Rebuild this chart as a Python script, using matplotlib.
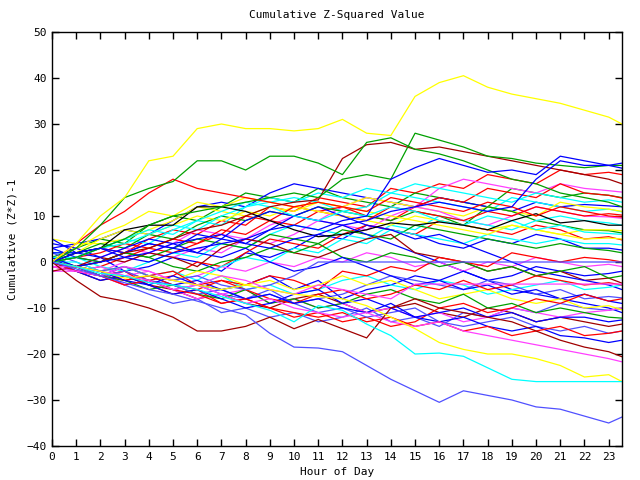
import matplotlib
matplotlib.use("Agg")
import matplotlib.pyplot as plt

hours = [0, 1, 2, 3, 4, 5, 6, 7, 8, 9, 10, 11, 12, 13, 14, 15, 16, 17, 18, 19, 20, 21, 22, 23, 23.55]
x_ticks = list(range(24))
y_ticks = [-40, -30, -20, -10, 0, 10, 20, 30, 40, 50]

title = "Cumulative Z-Squared Value"
x_label = "Hour of Day"
y_label = "Cumulative (Z*Z)-1"

# cumulative (z*z)-1 per day, read at each hour
day_r19 = [0, 1, 3, 2, 5, 7, 6, 9, 8, 12, 11, 14, 13, 12, 16, 15, 17, 16, 19, 18, 17, 20, 19, 19.5, 19]
day_g14 = [1, 3, 5, 4, 8, 10, 9, 12, 15, 14, 13, 16, 14, 13, 12, 15, 14, 13, 12, 16, 15, 14, 15, 14.5, 14]
day_b12 = [3, 4, 5, 7, 6, 9, 12, 13, 12, 15, 17, 16, 15, 14, 13, 12, 14, 13, 12, 11, 13, 12, 12.5, 12.2, 12]
day_m15 = [0, -1, 1, 3, 2, 4, 7, 6, 5, 8, 10, 9, 12, 14, 13, 12, 16, 18, 17, 16, 15, 17, 16, 15.5, 15.2]
day_c11 = [2, 2, 3, 5, 4, 7, 9, 8, 12, 13, 14, 13, 11, 12, 15, 14, 13, 12, 11, 14, 13, 12, 11, 11.5, 10.9]
day_dr13 = [-1, -2, -4, -3, -5, -6, -8, -7, -9, -10, -8, -7, -9, -11, -10, -9, -11, -12, -10, -11, -13, -12, -13, -14, -13.5]
day_y11 = [5, 4, 4, 5, 7, 9, 12, 11, 10, 12, 11, 13, 12, 14, 13, 12, 11, 10, 12, 11, 10, 13, 12, 11.5, 11]
day_r14 = [0, -2, -1, 1, 3, 2, 4, 6, 10, 9, 8, 11, 12, 10, 9, 12, 14, 13, 16, 15, 14, 17, 15, 14.5, 13.9]
day_lb10 = [2, 0, -2, -5, -7, -9, -8, -11, -10, -12, -11, -13, -12, -10, -13, -12, -14, -11, -12, -10, -11, -9, -10, -10.5, -10]
day_g6 = [0, 2, 4, 3, 6, 5, 8, 10, 9, 11, 10, 12, 11, 10, 9, 11, 10, 8, 12, 11, 9, 8, 7, 6.8, 6.3]
day_b3 = [4, 3, 1, -2, -1, 1, 0, -2, 2, 1, 3, 6, 5, 8, 7, 6, 4, 3, 5, 4, 6, 5, 3, 3, 2.6]
day_m9 = [-1, -1, -2, 0, 2, 1, 3, 2, 5, 4, 6, 9, 8, 7, 10, 12, 11, 9, 8, 10, 12, 11, 10, 9.8, 9.5]
day_c8 = [0, 1, -1, -2, 0, 2, 1, 4, 3, 6, 8, 7, 6, 5, 8, 7, 10, 9, 8, 7, 9, 10, 9, 8.5, 8]
day_r5 = [0, -1, -3, -2, -4, -3, 0, -1, 2, 5, 4, 3, 6, 8, 7, 6, 9, 8, 7, 6, 8, 7, 5, 5.5, 4.8]
day_g2 = [1, -1, 0, 2, 1, 3, 5, 4, 3, 6, 5, 4, 7, 6, 5, 8, 7, 6, 5, 4, 3, 4, 3, 2.5, 2]
day_b11n = [3, 1, 0, 2, 4, 3, 2, 5, 4, 7, 10, 9, 8, 6, 4, 2, 0, -2, -4, -6, -7, -8, -9, -10, -11]
day_m1n = [-2, -2, -1, -3, -2, -4, -3, -1, -2, 0, -1, 1, 0, 2, 1, -1, 0, -2, 0, -1, 1, 0, -1, -0.5, -1]
day_c4 = [0, 0, -2, -1, -3, -2, -4, -1, 1, 0, 3, 2, 5, 4, 7, 6, 5, 4, 6, 5, 4, 5, 4, 4, 3.7]
day_y5 = [0, 2, 5, 7, 6, 8, 10, 9, 11, 10, 12, 13, 12, 11, 10, 9, 8, 7, 6, 8, 7, 6, 5, 5.2, 5]
day_r10 = [0, 1, 2, 4, 3, 5, 4, 7, 6, 9, 12, 11, 10, 9, 12, 11, 10, 9, 11, 10, 12, 11, 10, 10.5, 10.2]
day_b2n = [1, -2, -3, -1, -3, -5, -4, -6, -5, -3, -6, -4, -8, -6, -5, -3, -4, -2, -4, -3, -1, -2, -3, -2.5, -2]
day_dr5n = [-2, -1, 1, 0, 2, 1, -1, 3, 5, 4, 2, 1, 3, 5, 6, 2, 1, 0, -2, -1, -3, -2, -4, -3.5, -4.6]
day_y7 = [0, 3, 6, 8, 11, 10, 13, 12, 14, 13, 12, 11, 10, 9, 8, 10, 9, 8, 7, 8, 7, 6, 7, 7, 6.8]
day_b6n = [5, 2, 3, 2, 4, 3, 6, 5, 9, 11, 10, 12, 10, 8, 7, 5, 6, 4, 2, 0, -2, -3, -4, -5, -6]
day_c5n = [0, -1, -2, -1, -3, -4, -5, -3, -6, -5, -7, -6, -4, -3, -5, -6, -4, -5, -7, -6, -5, -4, -6, -5.5, -5]
day_r0 = [0, -1, -3, -4, -3, -5, -6, -4, -5, -3, -4, -6, -2, -3, -1, -2, 1, 0, -1, 2, 1, 0, 1, 0.5, 0]
day_g3n = [0, 1, 0, 2, 1, -1, -2, 0, 1, 3, 2, 4, 1, 0, 2, 1, -1, 0, -2, -1, -3, -2, -1, -3.5, -3]
day_lb8n = [0, -2, -3, -5, -4, -6, -5, -7, -8, -6, -9, -8, -7, -5, -3, -4, -5, -6, -4, -5, -7, -6, -8, -7.5, -7.8]
day_b9n = [2, 2, 1, 3, 5, 4, 2, 1, 3, 0, -2, -1, 1, -1, -3, -5, -4, -6, -5, -7, -6, -8, -7, -8.5, -9]
day_m10n = [0, -2, -3, -5, -4, -6, -8, -7, -6, -9, -8, -10, -9, -11, -10, -12, -11, -13, -12, -10, -11, -12, -11, -10.5, -10]
day_c14 = [0, 1, 3, 4, 6, 8, 7, 10, 12, 14, 13, 15, 14, 16, 15, 17, 16, 15, 14, 13, 15, 14, 13, 13.5, 13]
day_y10n = [-1, -1, -2, -1, -3, -4, -2, -3, -5, -4, -6, -5, -3, -5, -4, -6, -8, -7, -6, -8, -9, -8, -10, -9.5, -10.4]
day_r8n = [0, -1, -3, -2, -5, -7, -6, -9, -8, -10, -12, -11, -13, -12, -14, -13, -10, -9, -11, -10, -8, -9, -7, -8.5, -8]
day_g12n = [0, -1, -3, -4, -6, -5, -7, -8, -6, -9, -8, -10, -9, -7, -6, -8, -9, -7, -10, -9, -11, -10, -11, -12, -12.2]
day_b13n = [0, -2, -4, -3, -5, -7, -6, -8, -10, -9, -7, -6, -9, -8, -10, -12, -11, -10, -12, -11, -13, -12, -12, -13, -12.6]
day_r5n = [0, -1, -2, -4, -3, -2, -5, -4, -6, -8, -9, -7, -6, -8, -7, -5, -6, -4, -6, -5, -3, -4, -5, -4.5, -5]
day_lb15n = [0, -1, -3, -2, -4, -5, -7, -6, -8, -7, -9, -11, -10, -12, -11, -10, -13, -14, -13, -12, -14, -15, -14, -15.5, -15]
day_b17n = [1, -1, -2, -4, -5, -3, -5, -6, -8, -7, -9, -8, -10, -11, -9, -12, -13, -12, -14, -15, -14, -16, -16.5, -17.5, -17]
day_r15n = [0, -2, -3, -5, -4, -6, -7, -9, -8, -10, -11, -12, -11, -13, -12, -14, -13, -15, -14, -16, -15, -14, -16, -15.5, -15]
day_m22n = [-1, -1, -2, -3, -4, -6, -5, -7, -9, -8, -10, -11, -12, -11, -13, -14, -13, -15, -16, -17, -18, -19, -20, -21, -21.7]
day_c6 = [1, 1, 3, 5, 7, 6, 9, 11, 13, 12, 10, 9, 11, 10, 12, 11, 9, 8, 10, 9, 7, 8, 6.5, 6.2, 6]
day_lb_flat = [0, -1, -2, -1, -3, -4, -3, -5, -6, -5, -3, 0, 0, 0, 0, 0, 0, 0, 0, 0, 0, 0, 0, 0, 0]
day_m_flat = [-1, -2, -3, -1, -2, -4, -5, -3, -4, -6, -7, -5, -6, -7, -8, -4.8, -4.8, -4.8, -4.8, -4.8, -4.8, -4.8, -4.8, -4.8, -4.8]
day_black = [0, 2, 3, 7, 8, 8, 12, 12, 11, 9, 7, 5.5, 6, 7, 8.5, 8, 8.7, 8, 7, 9, 10.5, 8.5, 9, 8, 8]
day_r1 = [0, 4, 8, 11, 15, 18, 16, 15, 14, 13, 12, 13, 12, 11, 14, 13, 12, 11, 13, 12, 10, 12, 11, 10, 9.8]
day_dr2 = [0, -1, 0, 2, 3, 5, 7, 8, 10, 12, 13, 13.5, 22.5, 25.5, 26, 24.5, 25, 24, 23, 22, 21, 20, 19, 18, 17]
day_g1 = [0, 3, 8, 14, 16, 17.5, 22, 22, 20, 23, 23, 21.5, 19, 26, 27, 24.5, 23.5, 22, 20, 18, 17, 15, 14, 13, 12]
day_g2b = [0, 1, 3, 5, 8, 10, 11, 12, 13, 14, 15, 14, 18, 19, 18, 28, 26.5, 25, 23, 22.5, 21.5, 21, 20.5, 21, 21]
day_b1 = [0, -1, 0, 1, 0, 2, 3, 4, 5, 7, 8, 7, 9, 10, 18, 20.5, 22.5, 21, 19.5, 20, 19, 23, 22, 21, 21.5]
day_b2 = [0, 2, 3, 1, 2, 4, 5, 6, 4, 3, 5, 6, 8, 9, 11, 12, 13, 12, 11, 12, 18, 22, 21, 21, 20.4]
day_dr1 = [0, -4, -7.5, -8.5, -10, -12, -15, -15, -14, -12, -14.5, -12.5, -14.5, -16.5, -10, -8, -10, -11, -12, -13, -15, -17, -18.5, -19.5, -20.6]
day_y2 = [0, -1, -2, -3.5, -3, -4, -5, -6, -5, -6, -7, -7.5, -8, -9.5, -12, -14.5, -17.5, -19, -20, -20, -21, -22.5, -25, -24.5, -26]
day_c1 = [0, -1, -2.5, -3, -4.5, -5, -6, -7.5, -9, -10.5, -13, -9.5, -10.5, -13.5, -16, -20, -19.8, -20.5, -23, -25.5, -26, -26, -26, -26, -26]
day_lb1 = [0, -1.5, -3, -4.5, -6, -7, -8.5, -10, -11.5, -15.5, -18.5, -18.7, -19.5, -22.5, -25.5, -28, -30.5, -28, -29, -30, -31.5, -32, -33.5, -35, -33.7]
day_y1 = [0, 4, 10, 14, 22, 23, 29, 30, 29, 29, 28.5, 29, 31, 28, 27.5, 36, 39, 40.5, 38, 36.5, 35.5, 34.5, 33, 31.5, 30]

R, G, B, M, C = "#ff0000", "#00a000", "#0000ff", "#ff40ff", "#00ffff"
DR, Y, K, LB = "#a00000", "#ffff00", "#000000", "#5050ff"

series = [
    (day_r19, R), (day_g14, G), (day_b12, B), (day_m15, M), (day_c11, C),
    (day_dr13, DR), (day_y11, Y), (day_r14, R), (day_lb10, LB), (day_g6, G),
    (day_b3, B), (day_m9, M), (day_c8, C), (day_r5, R), (day_g2, G),
    (day_b11n, B), (day_m1n, M), (day_c4, C), (day_y5, Y), (day_r10, R),
    (day_b2n, B), (day_dr5n, DR), (day_y7, Y), (day_b6n, B), (day_c5n, C),
    (day_r0, R), (day_g3n, G), (day_lb8n, LB), (day_b9n, B), (day_m10n, M),
    (day_c14, C), (day_y10n, Y), (day_r8n, R), (day_g12n, G), (day_b13n, B),
    (day_r5n, R), (day_lb15n, LB), (day_b17n, B), (day_r15n, R), (day_m22n, M),
    (day_c6, C), (day_lb_flat, LB), (day_m_flat, M), (day_black, K), (day_r1, R),
    (day_dr2, DR), (day_g1, G), (day_g2b, G), (day_b1, B), (day_b2, B),
    (day_dr1, DR), (day_y2, Y), (day_c1, C), (day_lb1, LB), (day_y1, Y),
]

plt.rcParams["font.family"] = ["DejaVu Sans Mono", "DejaVu Sans"]
fig = plt.figure(figsize=(6.4, 4.8), dpi=100)
ax = fig.add_axes([52 / 640, 1 - 446 / 480, 570 / 640, 414 / 480])

for vals, col in series:
    ax.plot(hours, vals, color=col, lw=0.9, solid_joinstyle="miter")

ax.set_xlim(0, 23.55)
ax.set_ylim(-40, 50)
ax.set_xticks(x_ticks)
ax.set_yticks(y_ticks)
ax.tick_params(direction="in", length=5, width=1, top=True, right=True,
               labelsize=8, colors="black", pad=4)
for s in ax.spines.values():
    s.set_linewidth(1)
    s.set_color("black")
ax.set_title(title, fontsize=8, pad=10)
ax.set_xlabel(x_label, fontsize=8, labelpad=4)
ax.set_ylabel(y_label, fontsize=8, labelpad=6)

fig.savefig("out.png", dpi=100)
